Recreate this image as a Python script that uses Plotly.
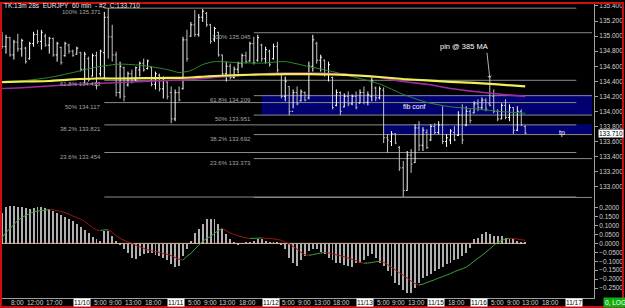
import plotly.graph_objects as go

# ---------------- DATA ----------------
# hourly bar index: 0 = 11/10 00:00 (weekend gap removed)
bar_idx = list(range(-18, 116))

opens = [134.95, 134.86, 134.98, 134.75, 134.92, 134.83, 134.84, 134.70, 134.90, 135.02, 134.93, 135.00, 134.88, 134.97, 134.75, 134.85, 134.74, 134.88,
         134.80, 134.76, 134.78, 134.56, 134.70, 134.47, 134.74, 134.50, 134.78, 135.25, 134.99, 134.75, 134.25, 134.58, 134.35, 134.50, 134.42, 134.55, 134.64, 134.57, 134.58, 134.36, 134.48, 134.30,
         134.39, 134.25, 133.90, 134.25, 134.30, 134.95, 135.00, 135.15, 135.02, 135.25, 135.30, 135.15, 134.95, 135.05, 134.75, 134.50, 134.60, 134.45, 134.56, 134.64, 134.74, 134.67, 134.90, 134.68,
         134.88, 134.70, 134.80, 134.70, 134.86, 134.50, 134.20, 134.33, 134.00, 134.25, 134.14, 134.25, 134.18, 134.60, 134.90, 134.68, 134.68, 134.50, 134.45, 134.08, 134.25, 134.06, 134.20, 134.10,
         134.20, 134.11, 134.25, 134.12, 134.20, 134.31, 134.18, 134.28, 133.65, 133.60, 133.70, 133.52, 133.25, 132.95, 133.42, 133.32, 133.78, 133.55, 133.72, 133.62, 133.80, 133.72, 133.82, 133.60,
         133.62, 133.72, 133.68, 133.95, 133.82, 134.00, 133.98, 134.10, 134.05, 134.15, 134.10, 134.20, 134.00, 133.90, 134.08, 133.92, 134.05, 133.75, 134.00, 133.80]
highs = [135.057, 135.017, 134.991, 134.951, 135.031, 134.965, 134.859, 134.925, 135.057, 135.083, 135.083, 135.031, 134.991, 134.978, 134.925, 134.859, 134.925, 134.899,
         134.820, 134.859, 134.793, 134.793, 134.727, 134.767, 134.793, 134.820, 135.321, 135.374, 135.150, 134.793, 134.661, 134.595, 134.529, 134.556, 134.595, 134.661, 134.701, 134.688, 134.595, 134.529, 134.503, 134.463,
         134.397, 134.331, 134.292, 134.331, 134.991, 135.083, 135.189, 135.347, 135.294, 135.360, 135.321, 135.163, 135.123, 135.057, 134.754, 134.661, 134.635, 134.595, 134.661, 134.767, 134.793, 134.925, 134.991, 135.017,
         134.899, 134.859, 134.820, 134.899, 134.925, 134.503, 134.463, 134.331, 134.292, 134.331, 134.292, 134.265, 134.661, 135.017, 134.925, 134.754, 134.688, 134.661, 134.463, 134.292, 134.265, 134.239, 134.265, 134.226,
         134.265, 134.292, 134.331, 134.265, 134.450, 134.331, 134.331, 134.318, 133.698, 133.738, 133.712, 133.540, 133.342, 133.474, 133.500, 133.830, 133.870, 133.790, 133.764, 133.830, 133.843, 133.870, 134.068, 133.698,
         133.764, 133.804, 134.002, 134.094, 134.068, 134.028, 134.134, 134.160, 134.186, 134.173, 134.450, 134.292, 134.028, 134.107, 134.160, 134.094, 134.054, 134.068, 134.028, 133.817]
lows = [134.833, 134.767, 134.727, 134.688, 134.793, 134.727, 134.635, 134.688, 134.859, 134.899, 134.820, 134.859, 134.767, 134.727, 134.661, 134.622, 134.727, 134.767,
        134.727, 134.754, 134.529, 134.358, 134.397, 134.463, 134.292, 134.463, 134.437, 134.700, 134.661, 134.199, 134.173, 134.134, 134.331, 134.371, 134.397, 134.463, 134.529, 134.556, 134.331, 134.292, 134.265, 134.173,
        134.160, 133.843, 133.870, 134.134, 134.292, 134.661, 134.991, 134.991, 134.991, 135.189, 135.123, 134.899, 134.925, 134.727, 134.463, 134.397, 134.424, 134.437, 134.503, 134.582, 134.635, 134.661, 134.622, 134.661,
        134.661, 134.635, 134.595, 134.688, 134.503, 134.173, 134.134, 133.949, 134.041, 134.081, 134.134, 134.134, 134.160, 134.529, 134.635, 134.529, 134.463, 134.397, 134.028, 134.068, 133.949, 134.054, 134.068, 134.081,
        134.028, 134.107, 134.094, 134.081, 134.134, 134.134, 134.160, 133.579, 133.447, 133.540, 133.565, 133.210, 132.867, 132.946, 133.184, 133.316, 133.474, 133.474, 133.500, 133.606, 133.698, 133.698, 133.565, 133.527,
        133.565, 133.606, 133.672, 133.565, 133.804, 133.843, 133.975, 134.002, 134.028, 134.002, 134.068, 133.975, 133.870, 133.896, 133.896, 133.870, 133.698, 133.738, 133.804, 133.698]
closes = [134.86, 134.98, 134.75, 134.92, 134.83, 134.94, 134.66, 134.90, 135.02, 134.93, 135.05, 134.88, 134.97, 134.75, 134.90, 134.65, 134.90, 134.80,
          134.74, 134.84, 134.56, 134.76, 134.42, 134.74, 134.34, 134.80, 135.25, 134.99, 134.75, 134.25, 134.60, 134.20, 134.50, 134.40, 134.58, 134.64, 134.55, 134.67, 134.36, 134.50, 134.30, 134.44,
          134.20, 133.90, 134.25, 134.15, 134.95, 134.70, 135.15, 135.02, 135.25, 135.33, 135.15, 134.93, 135.10, 134.75, 134.50, 134.60, 134.45, 134.56, 134.64, 134.74, 134.66, 134.90, 134.65, 134.98,
          134.70, 134.82, 134.62, 134.86, 134.55, 134.20, 134.40, 134.00, 134.25, 134.10, 134.26, 134.15, 134.60, 134.95, 134.68, 134.72, 134.50, 134.62, 134.05, 134.25, 134.00, 134.20, 134.10, 134.20,
          134.05, 134.25, 134.12, 134.22, 134.40, 134.18, 134.30, 133.65, 133.62, 133.70, 133.58, 133.25, 132.95, 133.42, 133.30, 133.78, 133.55, 133.75, 133.52, 133.80, 133.72, 133.82, 133.60, 133.65,
          133.74, 133.62, 133.95, 133.62, 134.00, 133.88, 134.10, 134.05, 134.15, 134.03, 134.08, 134.00, 133.90, 134.08, 133.92, 134.05, 133.75, 134.00, 133.82, 133.710]

# moving averages read at sampled bars
ma_idx = [-18, -12, -6, 0, 6, 12, 18, 24, 27, 30, 33, 36, 42, 48, 54, 60, 66, 72, 78, 84, 90, 96, 102, 108, 115]
ma_yellow = [134.388, 134.397, 134.404, 134.425, 134.437, 134.437, 134.441, 134.444, 134.446, 134.450, 134.460, 134.470, 134.483,
             134.490, 134.494, 134.494, 134.490, 134.477, 134.457, 134.430, 134.411, 134.391, 134.378, 134.358, 134.331]
ma_magenta = [134.305, 134.318, 134.338, 134.358, 134.371, 134.384, 134.397, 134.411, 134.415, 134.424, 134.437, 134.450, 134.477,
              134.496, 134.509, 134.509, 134.503, 134.483, 134.450, 134.397, 134.360, 134.305, 134.265, 134.232, 134.199]
ma_green = [134.397, 134.411, 134.450, 134.516, 134.589, 134.628, 134.608, 134.556, 134.516, 134.542, 134.622, 134.661, 134.648,
            134.641, 134.661, 134.595, 134.529, 134.450, 134.364, 134.226, 134.120, 134.061, 134.035, 134.002, 133.975]

# MACD histogram and signal
macd_hist = [0.172, 0.206, 0.211, 0.211, 0.206, 0.206, 0.200, 0.194, 0.200, 0.206, 0.206, 0.200, 0.194, 0.183, 0.172, 0.161, 0.150, 0.139,
             0.128, 0.110, 0.092, 0.075, 0.060, 0.039, 0.028, 0.017, 0.072, 0.072, 0.044, 0.017, -0.003, -0.028, -0.050, -0.078, -0.083, -0.067, -0.056, -0.050, -0.050, -0.061, -0.067, -0.078,
             -0.094, -0.111, -0.128, -0.122, -0.067, -0.028, 0.017, 0.061, 0.083, 0.111, 0.139, 0.139, 0.139, 0.111, 0.083, 0.056, 0.028, 0.011, -0.006, 0.002, 0.006, 0.011, 0.017, 0.028,
             0.028, 0.017, 0.011, 0.006, 0.006, -0.006, -0.028, -0.078, -0.106, -0.122, -0.094, -0.067, -0.039, -0.028, -0.028, -0.044, -0.056, -0.078, -0.089, -0.106, -0.106, -0.117, -0.122, -0.128,
             -0.106, -0.106, -0.094, -0.067, -0.056, -0.078, -0.106, -0.122, -0.150, -0.178, -0.222, -0.233, -0.261, -0.278, -0.278, -0.250, -0.222, -0.194, -0.178, -0.167, -0.150, -0.139, -0.133, -0.111,
             -0.106, -0.094, -0.083, -0.067, -0.050, -0.022, 0.028, 0.033, 0.056, 0.067, 0.056, 0.044, 0.044, 0.044, 0.033, 0.028, 0.028, 0.017, 0.011, 0.006]
macd_signal = [0.033, 0.061, 0.083, 0.106, 0.128, 0.144, 0.156, 0.167, 0.175, 0.181, 0.183, 0.186, 0.189, 0.187, 0.183, 0.178, 0.172, 0.164,
               0.153, 0.144, 0.136, 0.122, 0.106, 0.089, 0.075, 0.072, 0.075, 0.076, 0.061, 0.044, 0.028, 0.017, 0.008, 0.0, -0.011, -0.019, -0.028, -0.036, -0.042, -0.046, -0.050, -0.056,
               -0.061, -0.069, -0.078, -0.089, -0.094, -0.072, -0.056, -0.033, -0.011, 0.011, 0.028, 0.039, 0.056, 0.072, 0.083, 0.072, 0.058, 0.050, 0.042, 0.036, 0.031, 0.028, 0.028, 0.029,
               0.031, 0.029, 0.028, 0.025, 0.022, 0.017, 0.008, -0.003, -0.017, -0.033, -0.050, -0.064, -0.067, -0.063, -0.058, -0.054, -0.051, -0.053, -0.058, -0.064, -0.069, -0.075, -0.082, -0.089,
               -0.097, -0.106, -0.111, -0.110, -0.107, -0.103, -0.100, -0.106, -0.119, -0.133, -0.150, -0.164, -0.178, -0.194, -0.211, -0.225, -0.233, -0.228, -0.219, -0.211, -0.203, -0.194, -0.186, -0.178,
               -0.169, -0.158, -0.150, -0.142, -0.133, -0.117, -0.100, -0.083, -0.067, -0.050, -0.031, -0.011, 0.006, 0.017, 0.024, 0.028, 0.027, 0.024, 0.021, 0.017]

# fibonacci retracements (start bar, end bar, levels, labels)
fib1_start, fib1_end = 8, 128
fib1_levels = [135.371, 134.413, 134.117, 133.821, 133.454, 132.863]
fib1_labels = ["100% 135.371", "61.8% 134.413", "50% 134.117", "38.2% 133.821", "23.6% 133.454", ""]
fib2_start, fib2_end = 46, 132
fib2_levels = [135.045, 134.209, 133.951, 133.692, 133.373, 132.857]
fib2_labels = ["100% 135.045", "61.8% 134.209", "50% 133.951", "38.2% 133.692", "23.6% 133.373", ""]

# zones (x0, x1, top, bottom)
zones = [(48, 132, 134.226, 133.951), (79, 132, 133.830, 133.692)]

price_ticks = [133.0, 133.2, 133.4, 133.6, 133.8, 134.0, 134.2, 134.4, 134.6, 134.8, 135.0, 135.2, 135.4]
macd_ticks = [0.2, 0.15, 0.1, 0.05, 0.0, -0.05, -0.1, -0.15, -0.2, -0.25]

time_label_idx = [-16, -12, -7, 0, 5, 9, 13, 18, 24, 29, 33, 37, 42, 48, 53, 57, 61, 66, 72, 77, 81, 85, 90, 95, 101, 106, 110, 114, 119, 125]
time_label_txt = ["8:00", "12:00", "17:00", "11/10", "5:00", "9:00", "13:00", "18:00", "11/11", "5:00", "9:00", "13:00", "18:00",
                  "11/12", "5:00", "9:00", "13:00", "18:00", "11/13", "5:00", "9:00", "13:00", "11/15", "18:00", "11/16",
                  "5:00", "9:00", "13:00", "18:00", "11/17"]

last_close = 133.710
header = "TK:13m 28s\u00a0\u00a0EURJPY\u00a0\u00a060 min\u00a0\u00a0- #2\u00a0\u00a0C:133.710"

FONT = "Liberation Sans"

# ---------------- FIGURE ----------------
fig = go.Figure()

for vals, col, w in [(ma_green, "#2e8b2e", 1), (ma_magenta, "#a02aa0", 1.6), (ma_yellow, "#eeee55", 2.2)]:
    fig.add_trace(go.Scatter(x=ma_idx, y=vals, mode="lines", line=dict(color=col, width=w, shape="spline", smoothing=0.6),
                             xaxis="x", yaxis="y", hoverinfo="skip"))

fig.add_trace(go.Ohlc(x=bar_idx, open=opens, high=highs, low=lows, close=closes,
                      increasing_line_color="#ffffff", decreasing_line_color="#c4c4c4",
                      line_width=1, tickwidth=0.35, xaxis="x", yaxis="y", hoverinfo="skip"))

fig.add_trace(go.Bar(x=bar_idx, y=macd_hist, width=0.24, marker_color="#b0b0b0", marker_line_width=0,
                     xaxis="x", yaxis="y2", hoverinfo="skip"))
zero_vals = [0.0 for _ in bar_idx]
fig.add_trace(go.Scatter(x=bar_idx, y=zero_vals, mode="lines", line=dict(color="#e6b393", width=1),
                         xaxis="x", yaxis="y2", hoverinfo="skip"))

gx, gy, rx, ry = [], [], [], []
for i in range(len(macd_signal) - 1):
    seg_x = [bar_idx[i], bar_idx[i + 1], None]
    seg_y = [macd_signal[i], macd_signal[i + 1], None]
    if macd_signal[i + 1] >= macd_signal[i]:
        gx += seg_x; gy += seg_y
    else:
        rx += seg_x; ry += seg_y
fig.add_trace(go.Scatter(x=gx, y=gy, mode="lines", line=dict(color="#3fa03f", width=1), xaxis="x", yaxis="y2", hoverinfo="skip"))
fig.add_trace(go.Scatter(x=rx, y=ry, mode="lines", line=dict(color="#a01414", width=1), xaxis="x", yaxis="y2", hoverinfo="skip"))

shapes = []
for x0, x1, top, bot in zones:
    shapes.append(dict(type="rect", xref="x", yref="y", x0=x0, x1=x1, y0=bot, y1=top,
                       fillcolor="#000070", line=dict(width=0), layer="below"))
annotations = []
for start, end, levels, labels in [(fib1_start, fib1_end, fib1_levels, fib1_labels), (fib2_start, fib2_end, fib2_levels, fib2_labels)]:
    for lv, lb in zip(levels, labels):
        shapes.append(dict(type="line", xref="x", yref="y", x0=start, x1=end, y0=lv, y1=lv,
                           line=dict(color="#8a8a8a", width=1), layer="below"))
        if lb:
            annotations.append(dict(xref="x", yref="y", x=start, y=lv, text=lb, showarrow=False,
                                    xanchor="right", yanchor="top", xshift=-1, yshift=1,
                                    font=dict(family=FONT, size=6, color="#a6a6a6")))

# red frame
shapes.append(dict(type="rect", xref="paper", yref="paper", x0=-0.0017, x1=1.0489, y0=-0.0304, y1=1.0034,
                   line=dict(color="#cc1010", width=2), layer="above"))

for xi, t in zip(time_label_idx, time_label_txt):
    is_date = "/" in t
    annotations.append(dict(xref="x", yref="paper", x=xi, y=-0.017, text=t, showarrow=False,
                            xanchor="left", yanchor="middle", borderpad=0,
                            bgcolor="#ffffff" if is_date else "rgba(0,0,0,0)",
                            font=dict(family=FONT, size=6.5, color="#000000" if is_date else "#cfcfcf")))

annotations += [
    dict(xref="paper", yref="paper", x=0.0, y=0.994, text=header, showarrow=False, xanchor="left", yanchor="middle",
         font=dict(family=FONT, size=6.5, color="#e6e6e6")),
    dict(xref="paper", yref="y", x=1.0067, y=last_close, text="133.710", showarrow=False, xanchor="left", yanchor="middle",
         bgcolor="#ffffff", borderpad=0, font=dict(family=FONT, size=6.5, color="#000000")),
    dict(xref="paper", yref="paper", x=1.0152, y=-0.017, text="0, LOG", showarrow=False, xanchor="left", yanchor="middle",
         bgcolor="#10b010", borderpad=1, font=dict(family=FONT, size=6.5, color="#ffffff")),
    dict(xref="x", yref="y", x=83.5, y=134.068, text="fib conf", showarrow=False, xanchor="left", yanchor="middle",
         font=dict(family=FONT, size=7, color="#ffffff")),
    dict(xref="x", yref="y", x=123, y=133.711, text="tp", showarrow=False, xanchor="left", yanchor="middle",
         font=dict(family=FONT, size=7, color="#ffffff")),
    dict(xref="x", yref="y", x=99.5, y=134.859, text="pin @ 385 MA", showarrow=False, xanchor="center", yanchor="middle",
         font=dict(family=FONT, size=7.5, color="#ffffff")),
    dict(xref="x", yref="y", x=106, y=134.44, text="", showarrow=True, ax=-3, ay=-27,
         arrowcolor="#b0b0b0", arrowwidth=1, arrowhead=1, arrowsize=0.8),
]

axis_font = dict(family=FONT, size=6.5, color="#d0d0d0")
fig.update_layout(
    width=625, height=308,
    margin=dict(l=2, r=30, t=2, b=10),
    paper_bgcolor="#000000", plot_bgcolor="#000000",
    showlegend=False, bargap=0,
    xaxis=dict(range=[-18.02, 132.49], showgrid=False, zeroline=False, showticklabels=False, ticks="",
               showline=True, linecolor="#a0a0a0", linewidth=1, anchor="y2", rangeslider=dict(visible=False)),
    yaxis=dict(domain=[0.3378, 1], range=[132.8406, 135.4264], side="right", anchor="x",
               tickvals=price_ticks, tickformat=".3f", ticks="outside", ticklen=3, tickcolor="#a0a0a0",
               tickfont=axis_font, showgrid=False, zeroline=False, showline=True, linecolor="#a0a0a0", linewidth=1),
    yaxis2=dict(domain=[0, 0.3378], range=[-0.30556, 0.25], side="right", anchor="x",
                tickvals=macd_ticks, tickformat=".4f", ticks="outside", ticklen=3, tickcolor="#a0a0a0",
                tickfont=axis_font, showgrid=False, zeroline=False, showline=True, linecolor="#a0a0a0", linewidth=1),
    shapes=shapes,
    annotations=annotations,
)

fig.write_html("out.html")
